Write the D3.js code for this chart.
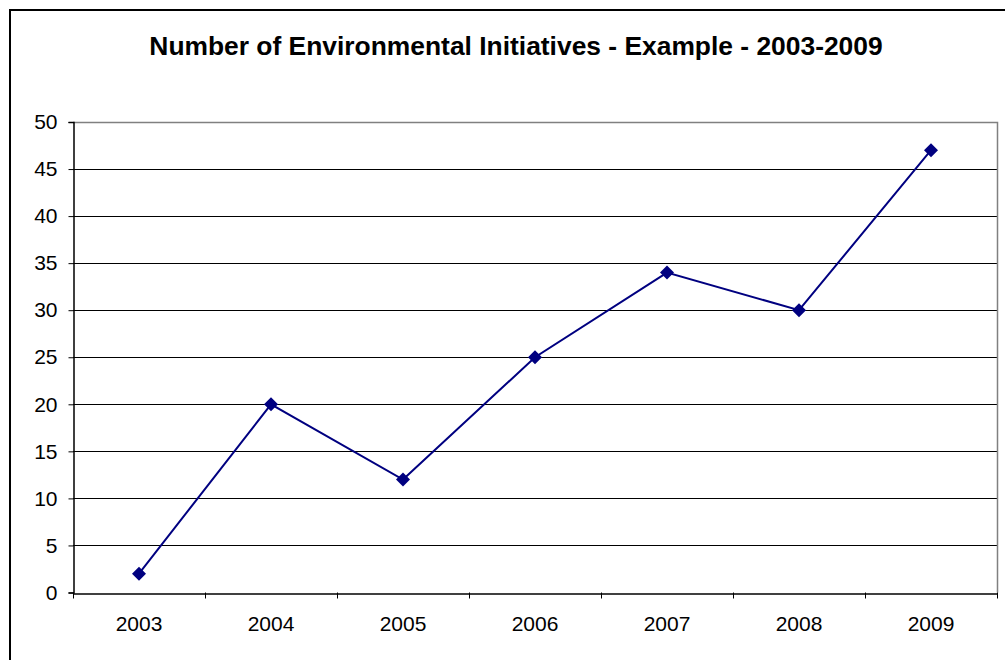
<!DOCTYPE html>
<html><head><meta charset="utf-8">
<script src="https://cdn.jsdelivr.net/npm/d3@7"></script>
<style>body{margin:0;background:#fff;} svg{display:block;font-family:Arial,"Liberation Sans",sans-serif;}</style>
</head><body>
<script>
const years = ["2003","2004","2005","2006","2007","2008","2009"];
const initiatives = [2, 20, 12, 25, 34, 30, 47];
const yTicks = [0,5,10,15,20,25,30,35,40,45,50];
const title = "Number of Environmental Initiatives - Example - 2003-2009";

const W = 1005, H = 660;
const m = {left:73, right:997, top:122, bottom:592.5};
const svg = d3.select("body").append("svg").attr("width", W).attr("height", H);
const FF = "Arial, 'Liberation Sans', sans-serif";

// outer border
svg.append("rect").attr("x",10).attr("y",10).attr("width",1010).attr("height",660)
  .attr("fill","#fff").attr("stroke","#000").attr("stroke-width",2);

svg.append("text").attr("x",516).attr("y",55).attr("text-anchor","middle")
  .attr("font-size","26.4px").attr("font-weight","bold").attr("font-family",FF).text(title);

const x = d3.scaleBand().domain(years).range([m.left, m.right]);
const y = d3.scaleLinear().domain([0,50]).range([m.bottom, m.top]);

// grid lines
svg.append("g").selectAll("line").data(yTicks.filter(d=>d>0 && d<50)).join("line")
  .attr("x1",m.left).attr("x2",m.right).attr("y1",d=>Math.round(y(d))+0.5).attr("y2",d=>Math.round(y(d))+0.5)
  .attr("stroke","#000").attr("stroke-width",1);

// plot border top/right gray
svg.append("path").attr("d",`M${m.left},${Math.round(m.top)+0.5}H${m.right+0.5}V${m.bottom}`)
  .attr("fill","none").attr("stroke","#808080").attr("stroke-width",1.5);

// y axis
const ya = svg.append("g").attr("transform",`translate(${m.left+0.5},0)`)
  .call(d3.axisLeft(y).tickValues(yTicks).tickSize(5).tickPadding(11).tickFormat(d3.format("d")));
ya.select(".domain").attr("stroke","#000").attr("stroke-width",1.5);
ya.selectAll(".tick line").attr("stroke","#000");
ya.selectAll(".tick text").attr("font-size","21px").attr("fill","#000").attr("font-family",FF);

// x axis
const xa = svg.append("g").attr("transform",`translate(0,${Math.round(m.bottom)+0.5})`)
  .call(d3.axisBottom(x).tickSize(0).tickPadding(23));
xa.select(".domain").attr("stroke","#000").attr("stroke-width",1.5);
xa.selectAll(".tick text").attr("font-size","21px").attr("fill","#000").attr("font-family",FF);
// category boundary ticks
const bounds = years.map(d=>x(d)).concat([x(years[years.length-1])+x.bandwidth()]);
svg.append("g").selectAll("line").data(bounds).join("line")
  .attr("x1",d=>Math.round(d)+0.5).attr("x2",d=>Math.round(d)+0.5)
  .attr("y1",m.bottom).attr("y2",m.bottom+6).attr("stroke","#000");

// line
const line = d3.line().x((d,i)=>x(years[i])+x.bandwidth()/2).y(d=>y(d));
svg.append("path").datum(initiatives).attr("d",line).attr("fill","none")
  .attr("stroke","#000080").attr("stroke-width",2);

svg.append("g").selectAll("path").data(initiatives).join("path")
  .attr("transform",(d,i)=>`translate(${x(years[i])+x.bandwidth()/2},${y(d)})`)
  .attr("d","M0,-7L7,0L0,7L-7,0Z").attr("fill","#000080");
</script>
</body></html>
